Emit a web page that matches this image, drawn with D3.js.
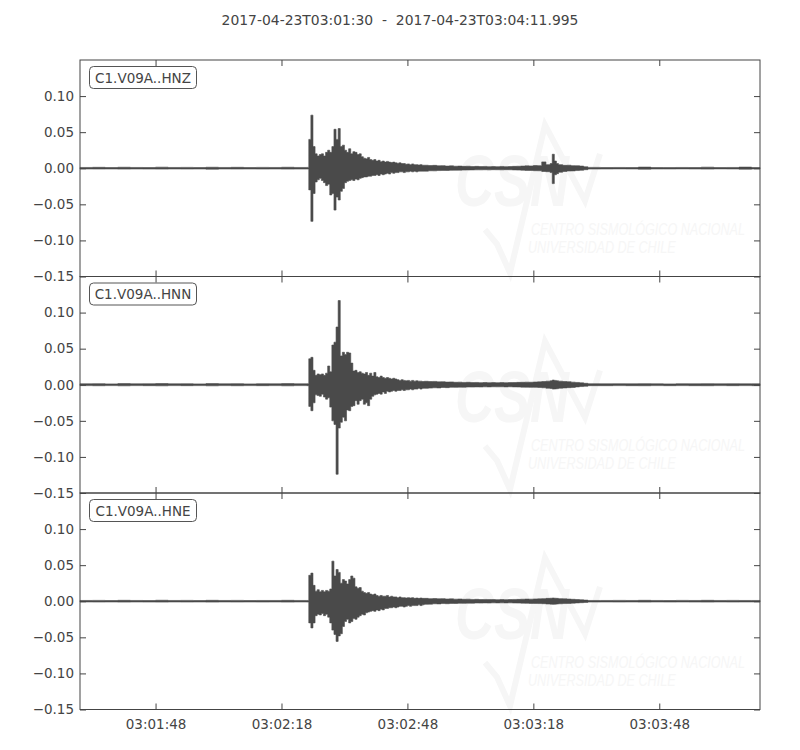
<!DOCTYPE html>
<html>
<head>
<meta charset="utf-8">
<script src="https://cdn.jsdelivr.net/npm/d3@7"></script>
<style>
  html, body { margin: 0; padding: 0; background: #ffffff; }
  svg { display: block; font-family: "DejaVu Sans", sans-serif; }
</style>
</head>
<body>
<svg id="chart" width="800" height="750"></svg>
<script>
// ---------------- DATA ----------------
const title = "2017-04-23T03:01:30  -  2017-04-23T03:04:11.995";
const startTime = Date.UTC(2017, 3, 23, 3, 1, 30, 0);
const endTime = Date.UTC(2017, 3, 23, 3, 4, 11, 995);
const channels = ["C1.V09A..HNZ", "C1.V09A..HNN", "C1.V09A..HNE"];

const yTickValues = [0.10, 0.05, 0.00, -0.05, -0.10, -0.15];
const yTickLabels = ["0.10", "0.05", "0.00", "\u22120.05", "\u22120.10", "\u22120.15"];
const xTickSeconds = [18, 48, 78, 108, 138]; // seconds after 03:01:30
const xTickLabels = ["03:01:48", "03:02:18", "03:02:48", "03:03:18", "03:03:48"];

// time (s after start) of each envelope bin start
const binT = [
  0, 3, 6, 9, 12, 15, 18, 21, 24, 27, 30, 33, 36, 39, 42, 45, 48, 51, 54,
  54.5, 55, 55.5, 56, 56.5, 57, 57.5, 58, 58.5, 59, 59.5, 60, 60.5, 61, 61.5, 62, 62.5, 63, 63.5, 64,
  64.5, 65, 65.5, 66, 66.5, 67, 67.5, 68, 68.5, 69, 69.5, 70, 70.5, 71, 71.5, 72, 72.5, 73, 73.5,
  74, 74.5, 75, 75.5, 76, 76.5, 77, 77.5, 78, 78.5, 79, 79.5, 80, 80.5, 81, 81.5,
  82, 83, 84, 85, 86, 87, 88, 89, 90, 91, 92, 93, 94, 95, 96, 97, 98, 99, 100, 101, 102, 103, 104,
  105, 106, 107, 108, 109, 110, 111, 112, 112.5, 113, 113.5, 114, 115, 116, 117, 118, 119, 120, 121,
  124, 127, 130, 133, 136, 139, 142, 145, 148, 151, 154, 157, 160, 162
];

// HNZ envelope (max / min per bin)
const hnzHi = [
  0.0011, 0.0013, 0.0010, 0.0014, 0.0011, 0.0010, 0.0015, 0.0011, 0.0012, 0.0010, 0.0014, 0.0011, 0.0013, 0.0010, 0.0012, 0.0011, 0.0014, 0.0011, 0.0012,
  0.040, 0.0736, 0.030, 0.020, 0.017, 0.019, 0.020, 0.017, 0.022, 0.025, 0.022, 0.030, 0.054, 0.040, 0.055, 0.030, 0.032, 0.025, 0.022, 0.027,
  0.020, 0.023, 0.022, 0.019, 0.020, 0.016, 0.014, 0.013, 0.015, 0.012, 0.011, 0.012, 0.010, 0.011, 0.009, 0.010, 0.0085, 0.0095, 0.0085,
  0.008, 0.0085, 0.0075, 0.007, 0.0075, 0.0065, 0.0065, 0.0055, 0.006, 0.005, 0.006, 0.005, 0.005, 0.0045, 0.005, 0.0042,
  0.0042, 0.0038, 0.0040, 0.0034, 0.0036, 0.0030, 0.0033, 0.0028, 0.0030, 0.0026, 0.0028, 0.0024, 0.0026, 0.0023, 0.0025, 0.0022, 0.0024, 0.0022, 0.0025, 0.0022, 0.0024, 0.0026, 0.0028,
  0.0030, 0.0033, 0.0032, 0.0038, 0.0036, 0.0088, 0.0050, 0.0065, 0.0194, 0.0100, 0.0065, 0.0050, 0.0040, 0.0042, 0.0036, 0.0035, 0.0030, 0.0020, 0.0012,
  0.0010, 0.0011, 0.0010, 0.0016, 0.0010, 0.0009, 0.0011, 0.0010, 0.0015, 0.0010, 0.0011, 0.0016, 0.0010, 0.0010
];
const hnzLo = [
  -0.0010, -0.0011, -0.0010, -0.0012, -0.0010, -0.0011, -0.0012, -0.0010, -0.0011, -0.0010, -0.0013, -0.0010, -0.0011, -0.0010, -0.0011, -0.0010, -0.0012, -0.0011, -0.0011,
  -0.030, -0.0736, -0.035, -0.019, -0.016, -0.014, -0.017, -0.020, -0.024, -0.022, -0.037, -0.035, -0.058, -0.040, -0.044, -0.032, -0.028, -0.020, -0.018, -0.017,
  -0.016, -0.017, -0.015, -0.016, -0.014, -0.013, -0.012, -0.012, -0.011, -0.011, -0.010, -0.010, -0.009, -0.010, -0.008, -0.009, -0.008, -0.007, -0.008,
  -0.006, -0.007, -0.006, -0.006, -0.005, -0.005, -0.006, -0.005, -0.005, -0.004, -0.005, -0.004, -0.005, -0.004, -0.004, -0.004,
  -0.0040, -0.0035, -0.0036, -0.0032, -0.0030, -0.0031, -0.0028, -0.0027, -0.0026, -0.0025, -0.0024, -0.0023, -0.0022, -0.0022, -0.0021, -0.0022, -0.0020, -0.0021, -0.0022, -0.0020, -0.0021, -0.0023, -0.0025,
  -0.0027, -0.0030, -0.0031, -0.0034, -0.0035, -0.0045, -0.0048, -0.0060, -0.0213, -0.0090, -0.0075, -0.0055, -0.0045, -0.0038, -0.0037, -0.0032, -0.0028, -0.0020, -0.0011,
  -0.0010, -0.0009, -0.0010, -0.0013, -0.0010, -0.0010, -0.0009, -0.0010, -0.0012, -0.0009, -0.0010, -0.0013, -0.0010, -0.0010
];

// HNN envelope
const hnnHi = [
  0.0013, 0.0015, 0.0012, 0.0016, 0.0013, 0.0014, 0.0017, 0.0013, 0.0014, 0.0012, 0.0016, 0.0013, 0.0015, 0.0012, 0.0014, 0.0013, 0.0016, 0.0013, 0.0014,
  0.036, 0.038, 0.020, 0.013, 0.015, 0.014, 0.015, 0.013, 0.016, 0.026, 0.018, 0.055, 0.059, 0.080, 0.1167, 0.040, 0.045, 0.042, 0.045, 0.044,
  0.030, 0.019, 0.020, 0.017, 0.018, 0.016, 0.015, 0.017, 0.013, 0.016, 0.012, 0.017, 0.011, 0.010, 0.012, 0.010, 0.009, 0.010, 0.009,
  0.008, 0.009, 0.008, 0.007, 0.006, 0.007, 0.006, 0.0055, 0.006, 0.005, 0.006, 0.005, 0.0055, 0.005, 0.005, 0.0045,
  0.0048, 0.0045, 0.0046, 0.0040, 0.0042, 0.0037, 0.0039, 0.0034, 0.0036, 0.0032, 0.0034, 0.0030, 0.0032, 0.0029, 0.0031, 0.0028, 0.0030, 0.0028, 0.0030, 0.0028, 0.0030, 0.0031, 0.0033,
  0.0034, 0.0036, 0.0035, 0.0038, 0.0040, 0.0045, 0.0050, 0.0055, 0.0065, 0.0060, 0.0055, 0.0050, 0.0045, 0.0042, 0.0036, 0.0032, 0.0026, 0.0020, 0.0014,
  0.0013, 0.0014, 0.0013, 0.0015, 0.0013, 0.0012, 0.0014, 0.0013, 0.0015, 0.0013, 0.0014, 0.0013, 0.0013, 0.0013
];
const hnnLo = [
  -0.0012, -0.0014, -0.0012, -0.0015, -0.0012, -0.0013, -0.0015, -0.0012, -0.0013, -0.0012, -0.0015, -0.0012, -0.0014, -0.0012, -0.0013, -0.0012, -0.0015, -0.0012, -0.0013,
  -0.030, -0.036, -0.025, -0.014, -0.015, -0.016, -0.013, -0.017, -0.020, -0.018, -0.031, -0.050, -0.055, -0.124, -0.060, -0.052, -0.045, -0.050, -0.035, -0.036,
  -0.030, -0.029, -0.022, -0.027, -0.022, -0.020, -0.027, -0.025, -0.029, -0.020, -0.016, -0.014, -0.013, -0.012, -0.013, -0.010, -0.012, -0.009, -0.010,
  -0.009, -0.008, -0.009, -0.008, -0.008, -0.007, -0.008, -0.007, -0.007, -0.006, -0.007, -0.006, -0.006, -0.005, -0.006, -0.005,
  -0.0050, -0.0046, -0.0042, -0.0044, -0.0038, -0.0040, -0.0035, -0.0036, -0.0033, -0.0034, -0.0031, -0.0032, -0.0030, -0.0031, -0.0029, -0.0030, -0.0028, -0.0029, -0.0028, -0.0030, -0.0028, -0.0030, -0.0031,
  -0.0033, -0.0034, -0.0036, -0.0036, -0.0038, -0.0042, -0.0048, -0.0052, -0.0060, -0.0058, -0.0055, -0.0048, -0.0044, -0.0040, -0.0037, -0.0030, -0.0025, -0.0020, -0.0013,
  -0.0013, -0.0012, -0.0013, -0.0014, -0.0012, -0.0013, -0.0012, -0.0013, -0.0014, -0.0012, -0.0013, -0.0012, -0.0013, -0.0013
];

// HNE envelope
const hneHi = [
  0.0011, 0.0012, 0.0010, 0.0013, 0.0011, 0.0010, 0.0014, 0.0011, 0.0012, 0.0010, 0.0013, 0.0011, 0.0012, 0.0010, 0.0011, 0.0011, 0.0013, 0.0011, 0.0011,
  0.036, 0.039, 0.022, 0.014, 0.016, 0.013, 0.015, 0.013, 0.015, 0.014, 0.017, 0.0556, 0.035, 0.044, 0.040, 0.025, 0.030, 0.028, 0.024, 0.030,
  0.035, 0.032, 0.020, 0.018, 0.019, 0.014, 0.012, 0.011, 0.012, 0.010, 0.009, 0.010, 0.008, 0.007, 0.008, 0.007, 0.007, 0.008, 0.006,
  0.007, 0.006, 0.006, 0.005, 0.006, 0.005, 0.005, 0.0045, 0.005, 0.0045, 0.005, 0.004, 0.0045, 0.004, 0.0045, 0.004,
  0.0040, 0.0036, 0.0038, 0.0034, 0.0036, 0.0031, 0.0033, 0.0029, 0.0031, 0.0027, 0.0029, 0.0025, 0.0027, 0.0024, 0.0025, 0.0023, 0.0024, 0.0022, 0.0024, 0.0022, 0.0024, 0.0025, 0.0026,
  0.0028, 0.0030, 0.0029, 0.0032, 0.0033, 0.0036, 0.0040, 0.0042, 0.0045, 0.0042, 0.0040, 0.0036, 0.0033, 0.0030, 0.0027, 0.0024, 0.0020, 0.0016, 0.0011,
  0.0011, 0.0012, 0.0011, 0.0013, 0.0011, 0.0010, 0.0012, 0.0011, 0.0013, 0.0011, 0.0012, 0.0011, 0.0011, 0.0011
];
const hneLo = [
  -0.0010, -0.0011, -0.0010, -0.0012, -0.0010, -0.0011, -0.0012, -0.0010, -0.0011, -0.0010, -0.0012, -0.0010, -0.0011, -0.0010, -0.0011, -0.0010, -0.0012, -0.0010, -0.0011,
  -0.030, -0.037, -0.030, -0.020, -0.018, -0.019, -0.017, -0.020, -0.018, -0.022, -0.030, -0.040, -0.046, -0.0556, -0.048, -0.045, -0.035, -0.028, -0.025, -0.030,
  -0.028, -0.024, -0.025, -0.022, -0.020, -0.018, -0.019, -0.016, -0.015, -0.014, -0.013, -0.014, -0.012, -0.013, -0.011, -0.012, -0.010, -0.010, -0.009,
  -0.009, -0.008, -0.009, -0.008, -0.007, -0.007, -0.008, -0.007, -0.006, -0.007, -0.006, -0.006, -0.006, -0.005, -0.006, -0.005,
  -0.0042, -0.0040, -0.0035, -0.0037, -0.0032, -0.0034, -0.0030, -0.0031, -0.0028, -0.0029, -0.0026, -0.0027, -0.0024, -0.0025, -0.0023, -0.0024, -0.0022, -0.0023, -0.0022, -0.0023, -0.0022, -0.0024, -0.0025,
  -0.0026, -0.0028, -0.0030, -0.0030, -0.0032, -0.0034, -0.0038, -0.0040, -0.0043, -0.0040, -0.0038, -0.0035, -0.0032, -0.0030, -0.0026, -0.0023, -0.0020, -0.0016, -0.0011,
  -0.0010, -0.0011, -0.0010, -0.0012, -0.0010, -0.0011, -0.0010, -0.0011, -0.0012, -0.0010, -0.0011, -0.0010, -0.0010, -0.0010
];

const highs = [hnzHi, hnnHi, hneHi];
const lows = [hnzLo, hnnLo, hneLo];

// ---------------- LAYOUT ----------------
const svg = d3.select("#chart");
const left = 80, right = 760, top0 = 60, panelH = 216.5;
const ink = "#444444";
const waveColor = "#4a4a4a";
const wmColor = "#f6f6f6";

svg.append("text")
  .attr("x", 400).attr("y", 25)
  .attr("text-anchor", "middle")
  .attr("font-size", 13.9)
  .attr("fill", ink)
  .style("white-space", "pre")
  .text(title);

const x = d3.scaleUtc().domain([new Date(startTime), new Date(endTime)]).range([left, right]);
const xTicks = xTickSeconds.map(s => new Date(startTime + s * 1000));

channels.forEach((ch, i) => {
  const top = top0 + i * panelH;
  const bottom = top + panelH;
  const y = d3.scaleLinear().domain([-0.15, 0.15]).range([bottom, top]);
  const g = svg.append("g");

  // faint watermark
  const wm = g.append("g").attr("fill", wmColor).attr("font-style", "italic")
    .attr("font-family", "Liberation Sans, sans-serif");
  wm.append("text")
    .attr("transform", `translate(455,${y(-0.052)}) scale(0.75,1)`)
    .attr("font-size", 72).attr("font-weight", "bold")
    .text("CSN");
  wm.append("path")
    .attr("d", `M485,${y(-0.085)} L497,${y(-0.105)} L510,${y(-0.145)} L545,${y(0.060)} L585,${y(-0.045)} L600,${y(0.02)}`)
    .attr("fill", "none").attr("stroke", wmColor).attr("stroke-width", 6);
  wm.append("text")
    .attr("transform", `translate(531,${y(-0.092)}) scale(1,1.35)`)
    .attr("font-size", 12.6)
    .text("CENTRO SISMOLÓGICO NACIONAL");
  wm.append("text")
    .attr("transform", `translate(528,${y(-0.117)}) scale(1,1.35)`)
    .attr("font-size", 12.6)
    .text("UNIVERSIDAD DE CHILE");

  // waveform envelope
  const hi = highs[i], lo = lows[i];
  const data = binT.map((t, k) => ({ t: new Date(startTime + t * 1000), hi: hi[k], lo: lo[k] }));
  const area = d3.area()
    .x(d => x(d.t))
    .y0(d => y(d.lo))
    .y1(d => y(d.hi))
    .curve(d3.curveStepAfter);
  g.append("path")
    .datum(data)
    .attr("d", area)
    .attr("fill", waveColor)
    .attr("stroke", waveColor)
    .attr("stroke-width", 0.6);

  // axes with inward ticks
  const yl = g.append("g").attr("transform", `translate(${left},0)`)
    .call(d3.axisLeft(y).tickValues(yTickValues).tickSize(-6).tickPadding(6)
      .tickFormat((d, k) => yTickLabels[k]));
  const yr = g.append("g").attr("transform", `translate(${right},0)`)
    .call(d3.axisRight(y).tickValues(yTickValues).tickSize(-6).tickFormat(""));
  const xt = g.append("g").attr("transform", `translate(0,${top})`)
    .call(d3.axisTop(x).tickValues(xTicks).tickSize(-6).tickFormat(""));
  const xb = g.append("g").attr("transform", `translate(0,${bottom})`)
    .call(d3.axisBottom(x).tickValues(xTicks).tickSize(-6).tickPadding(10)
      .tickFormat((d, k) => i === channels.length - 1 ? xTickLabels[k] : ""));
  [yl, yr, xt, xb].forEach(a => {
    a.select(".domain").remove();
    a.selectAll("line").attr("stroke", ink);
    a.selectAll("text").attr("fill", ink).attr("font-size", 13.5)
      .attr("font-family", "DejaVu Sans, sans-serif");
  });

  // frame
  g.append("rect")
    .attr("x", left).attr("y", top)
    .attr("width", right - left).attr("height", panelH)
    .attr("fill", "none").attr("stroke", ink).attr("stroke-width", 1);

  // channel label box
  const lbl = g.append("g");
  lbl.append("rect")
    .attr("x", 89.5).attr("y", top + 6.5)
    .attr("width", 107).attr("height", 22)
    .attr("rx", 4).attr("ry", 4)
    .attr("fill", "#ffffff").attr("stroke", "#555555").attr("stroke-width", 1);
  lbl.append("text")
    .attr("x", 143).attr("y", top + 22.5)
    .attr("text-anchor", "middle")
    .attr("font-size", 13.5)
    .attr("fill", ink)
    .text(ch);
});
</script>
</body>
</html>
